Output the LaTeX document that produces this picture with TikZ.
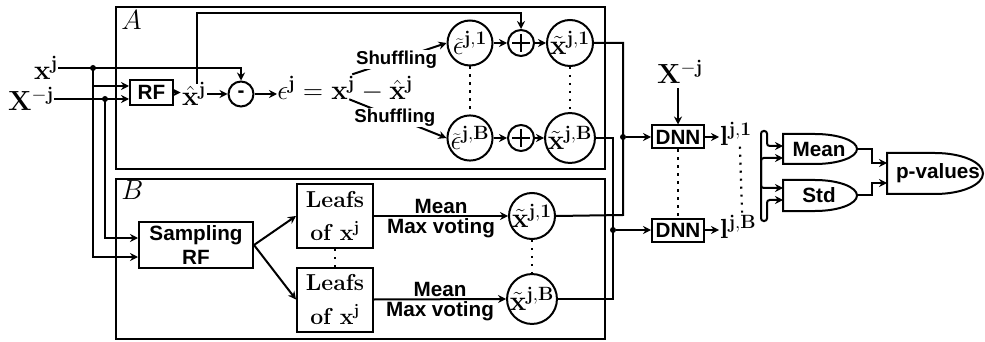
\documentclass[tikz,border=0pt]{standalone}
\usepackage[no-math]{fontspec}
\setsansfont{Liberation Sans}
\usetikzlibrary{arrows.meta,calc}
\begin{document}
\begin{tikzpicture}[x=0.75pt,y=-0.75pt,
  ln/.style={line width=1.5pt},
  arr/.style={line width=1.5pt,-{Stealth[length=6pt,width=6pt]}},
  arrb/.style={line width=1.5pt,{Stealth[length=6pt,width=6pt]}-{Stealth[length=6pt,width=6pt]}},
  sfb/.style={font=\sffamily\bfseries\fontsize{15.5}{18.5}\selectfont},
  mth/.style={font=\fontsize{20.74}{24}\selectfont},
  box/.style={draw, line width=1.5pt, inner sep=0pt, align=center, sfb},
  circ/.style={draw, circle, line width=1.5pt, inner sep=0pt, minimum size=33.75pt, mth},
  dots/.style={line width=1.6pt, dash pattern=on 1.6pt off 4.4pt},
  jdot/.style={circle, fill, inner sep=0pt, minimum size=4.5pt},
  shuf/.style={fill=white, inner sep=0.3pt, font=\sffamily\bfseries\fontsize{14}{16}\selectfont},
  lab/.style={inner sep=1pt, sfb},
  big/.style={draw, line width=1.7pt, inner sep=0pt},
  leaf/.style={draw, line width=1.5pt, inner sep=0pt, align=center, minimum width=57pt, minimum height=48pt, font=\fontsize{17.28}{25}\selectfont},
]
\useasboundingbox (0,0) rectangle (985,342);

% big boxes
\node[big, minimum width=366.75pt, minimum height=121.5pt] (boxA) at (360.5,88) {};
\node[big, minimum width=366.75pt, minimum height=120pt] (boxB) at (360.5,259) {};
\node[mth, anchor=north west, inner sep=0pt] (labA) at (121,10) {$A$};
\node[mth, anchor=north west, inner sep=0pt] (labB) at (121,180) {$B$};

% inputs
\node[mth, inner sep=0pt] (xj) at (46,68) {$\mathbf{x}^{\mathbf{j}}$};
\node[mth, inner sep=0pt] (Xm) at (31,99) {$\mathbf{X}^{-\mathbf{j}}$};
\node[jdot] (d1) at (93,68) {};
\node[jdot] (d2) at (105,99) {};

% box A
\node[box, minimum width=32.25pt, minimum height=18.75pt] (rf) at (151.5,92.5) {RF};
\node[mth, inner sep=1pt] (xh) at (194,94) {$\hat{\mathbf{x}}^{\mathbf{j}}$};
\coordinate (xhtop) at (197,84);
\coordinate (up1) at (197,13);
\node[circ, minimum size=18.75pt, sfb] (mi) at (241,94) {-};
\node[mth, anchor=base west, inner sep=0pt] (eqL) at (277,100) {$\epsilon^{\mathbf{j}}={}$};
\node[mth, anchor=base west, inner sep=0pt] (eqX) at (eqL.base east) {$\mathbf{x}^{\mathbf{j}}$};
\node[mth, anchor=base west, inner sep=0pt] (eqR) at (eqX.base east) {${}-\hat{\mathbf{x}}^{\mathbf{j}}$};
\coordinate (sh1) at ($(eqX.east)+(-3,-14)$);
\coordinate (sh2) at ($(eqX.east)+(-6,11)$);

\node[circ] (e1) at (470,43) {$\widetilde{\epsilon}^{\mathbf{j,1}}$};
\node[circ, minimum size=19.5pt] (p1) at (521,43) {};
\node[circ] (x1) at (570,43) {$\tilde{\mathbf{x}}^{\mathbf{j,1}}$};
\node[circ] (eB) at (470,138) {$\widetilde{\epsilon}^{\mathbf{j,B}}$};
\node[circ, minimum size=19.5pt] (pB) at (521,138) {};
\node[circ] (xB) at (570,138) {$\tilde{\mathbf{x}}^{\mathbf{j,B}}$};
\draw[line width=0.9pt] ($(p1)+(-9,0)$) -- ($(p1)+(9,0)$) ($(p1)+(0,-9)$) -- ($(p1)+(0,9)$);
\draw[line width=0.9pt] ($(pB)+(-9,0)$) -- ($(pB)+(9,0)$) ($(pB)+(0,-9)$) -- ($(pB)+(0,9)$);

\draw[arr] (xj.east) -- (d1.center) -| (mi.north);
\draw[arr] (Xm.east) -- (d2.center) -- (d2 -| rf.west);
\draw[arr] (d1.center) |- ($(rf.west)+(0,-6.5)$);
\draw[arr] (rf.east) -- (rf.east -| xh.west);
\draw[arr] (xh.east |- mi) -- (mi.west);
\draw[arr] (mi.east) -- (mi.east -| eqL.west);
\draw[arr] (xhtop) -- (up1) -| (p1.north);
\draw[arr] (sh1) -- node[shuf, pos=0.47]{Shuffling} (e1.west);
\draw[arr] (sh2) -- node[shuf, pos=0.47]{Shuffling} (eB.west);
\draw[arr] (e1) -- (p1);
\draw[arr] (p1) -- (x1);
\draw[arr] (eB) -- (pB);
\draw[arr] (pB) -- (xB);
\draw[dots] (e1.south) -- (eB.north);
\draw[dots] (x1.south) -- (xB.north);

% box B
\node[box, minimum width=85.5pt, minimum height=34.5pt] (srf) at (196,245) {Sampling\\RF};
\node[leaf] (lf1) at (335,216) {$\mathbf{Leafs}$\\$\mathbf{of}\;\mathbf{x}^{\mathbf{j}}$};
\node[leaf] (lfB) at (335,299.5) {$\mathbf{Leafs}$\\$\mathbf{of}\;\mathbf{x}^{\mathbf{j}}$};
\node[circ] (bx1) at (532,216) {$\tilde{\mathbf{x}}^{\mathbf{j,1}}$};
\node[circ] (bxB) at (532,299) {$\tilde{\mathbf{x}}^{\mathbf{j,B}}$};
\draw[arr] (d1.center) |- ($(srf.west)+(0,12)$);
\draw[arr] (d2.center) |- ($(srf.west)+(0,-7)$);
\draw[arr] (srf.east) -- (lf1.west);
\draw[arr] (srf.east) -- (lfB.west);
\draw[dots] (lf1.south) -- (lfB.north);
\draw[arr] (lf1.east) -- node[lab, above]{Mean} node[lab, below]{Max voting} (bx1.west);
\draw[arr] (lfB.east) -- node[lab, above]{Mean} node[lab, below]{Max voting} (bxB.west);
\draw[dots] (bx1.south) -- (bxB.north);

% DNN part
\node[box, minimum width=39pt, minimum height=17.25pt] (dnn1) at (678,137) {DNN};
\node[box, minimum width=39pt, minimum height=17.25pt] (dnn2) at (678,230) {DNN};
\node[mth] (Xm2) at (680,72) {$\mathbf{X}^{-\mathbf{j}}$};
\coordinate (v1) at (623,215);
\coordinate (v2) at (613,299);
\node[jdot] (d3) at (623,137) {};
\node[jdot] (d4) at (613,230) {};
\draw[ln] (x1.east) -| (v1) -- (bx1.east);
\draw[ln] (xB.east) -| (v2) -- (bxB.east);
\draw[arr] (d3) -- (dnn1.west);
\draw[arr] (d4) -- (dnn2.west);
\draw[arr] (Xm2.south -| dnn1.north) -- (dnn1.north);
\draw[dots] (dnn1.south) -- (dnn2.north);
\node[mth, anchor=west, inner sep=0.5pt] (l1) at (719,134) {$\mathbf{l}^{\mathbf{j,1}}$};
\node[mth, anchor=west, inner sep=0.5pt] (lB) at (719,227) {$\mathbf{l}^{\mathbf{j,B}}$};
\draw[arr] (dnn1.east) -- (dnn1.east -| l1.west);
\draw[arr] (dnn2.east) -- (dnn2.east -| lB.west);
\draw[dots] ([xshift=3pt]l1.south) -- ([xshift=3pt]lB.north);

% Mean / Std / p-values
\node[sfb] (mean) at (819,149) {Mean};
\draw[ln] (783,134) -- (815,134) arc[start angle=90, end angle=-90, x radius=31.5pt, y radius=11.25pt] -- (783,164) -- cycle;
\node[sfb] (std) at (819,195.5) {Std};
\draw[ln] (783,180) -- (815,180) arc[start angle=90, end angle=-90, x radius=31.5pt, y radius=11.625pt] -- (783,211) -- cycle;
\node[sfb] (pv) at (938,173.5) {p-values};
\draw[ln] (887,153) -- (935,153) arc[start angle=90, end angle=-90, x radius=36pt, y radius=15.375pt] -- (887,194) -- cycle;

\coordinate (mI1) at (783,146);
\coordinate (mI2) at (783,158);
\coordinate (sI1) at (783,188);
\coordinate (sI2) at (783,200);
\coordinate (mE) at (857,149);
\coordinate (sE) at (857,195.5);
\coordinate (pI1) at (887,163);
\coordinate (pI2) at (887,183);
\draw[arrb, rounded corners=2pt] (sI1) -- (761,188) -- (761,131) -- (767,131) -- (767,146) -- (mI1);
\draw[arrb, rounded corners=2pt] (mI2) -- (761,158) -- (761,221) -- (767,221) -- (767,200) -- (sI2);
\draw[arr] (mE) -- ++(15,0) |- (pI1);
\draw[arr] (sE) -- ++(15,0) |- (pI2);
\end{tikzpicture}
\end{document}
